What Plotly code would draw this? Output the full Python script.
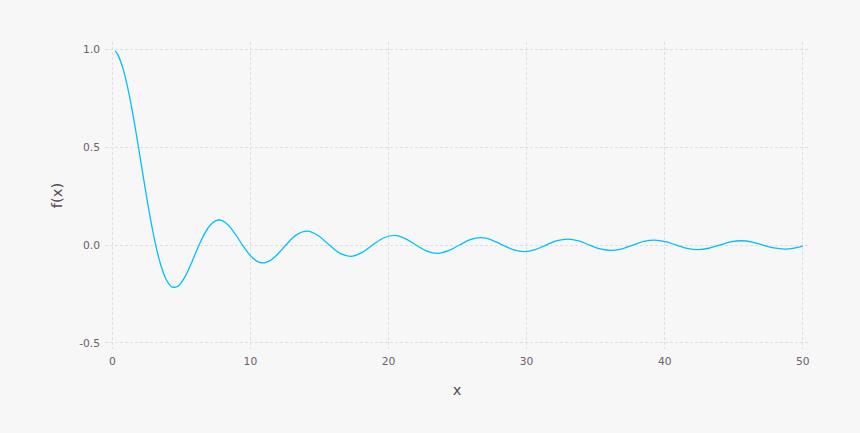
import plotly.graph_objects as go

# Values
x_vals = [0.2, 0.393, 0.785, 1.178, 1.571, 1.963, 2.356, 2.749, 3.142,
          3.534, 3.927, 4.320, 4.712, 5.105, 5.498, 5.890, 6.283,
          6.676, 7.069, 7.461, 7.854, 8.247, 8.639, 9.032, 9.425,
          9.818, 10.210, 10.603, 10.996, 11.388, 11.781, 12.174, 12.566,
          13.352, 14.137, 14.923, 15.708,
          16.493, 17.279, 18.064, 18.850,
          19.635, 20.420, 21.206, 21.991,
          22.777, 23.562, 24.347, 25.133,
          25.918, 26.704, 27.489, 28.274,
          29.060, 29.845, 30.631, 31.416,
          32.201, 32.987, 33.772, 34.558,
          35.343, 36.128, 36.914, 37.699,
          38.485, 39.270, 40.055, 40.841,
          41.626, 42.412, 43.197, 43.982,
          44.768, 45.553, 46.338, 47.124,
          47.909, 48.695, 49.480, 50.0]
y_vals = [0.9933, 0.9745, 0.9003, 0.7842, 0.6366, 0.4705, 0.3001, 0.1392, 0.0,
          -0.1083, -0.1801, -0.2139, -0.2122, -0.1810, -0.1286, -0.0650, 0.0,
          0.0573, 0.1000, 0.1238, 0.1273, 0.1120, 0.0818, 0.0424, 0.0,
          -0.0390, -0.0693, -0.0871, -0.0909, -0.0811, -0.0600, -0.0314, 0.0,
          0.0530, 0.0707, 0.0474, 0.0,
          -0.0429, -0.0579, -0.0391, 0.0,
          0.0360, 0.0490, 0.0333, 0.0,
          -0.0310, -0.0424, -0.0290, 0.0,
          0.0273, 0.0375, 0.0257, 0.0,
          -0.0243, -0.0335, -0.0231, 0.0,
          0.0220, 0.0303, 0.0209, 0.0,
          -0.0200, -0.0277, -0.0192, 0.0,
          0.0184, 0.0255, 0.0177, 0.0,
          -0.0170, -0.0236, -0.0164, 0.0,
          0.0158, 0.0220, 0.0153, 0.0,
          -0.0148, -0.0205, -0.0143, -0.0053]

x_ticks = [0, 10, 20, 30, 40, 50]
y_ticks = [-0.5, 0.0, 0.5, 1.0]
y_tick_text = ["-0.5", "0.0", "0.5", "1.0"]

fig = go.Figure()
fig.add_trace(go.Scatter(
    x=x_vals, y=y_vals, mode="lines",
    line=dict(color="#00BFFF", width=1.3, shape="spline", smoothing=1.0),
    hoverinfo="skip", showlegend=False,
))

grid = dict(showgrid=True, gridcolor="#DEDEE6", gridwidth=1, griddash="3px,2px",
            zeroline=False, showline=False, ticks="",
            tickfont=dict(family="DejaVu Sans", size=10.7, color="#6c606b"))

fig.update_layout(
    width=860, height=433,
    margin=dict(l=105, r=50.5, t=41.7, b=84),
    paper_bgcolor="#F7F7F7", plot_bgcolor="#F7F7F7",
    font=dict(family="DejaVu Sans"),
    xaxis=dict(range=[-0.53, 50.45], tickvals=x_ticks, ticklabelstandoff=4,
               title=dict(text="x", font=dict(size=14.7, color="#564a55"), standoff=18),
               **grid),
    yaxis=dict(range=[-0.532, 1.039], tickvals=y_ticks, ticktext=y_tick_text, ticklabelstandoff=4,
               title=dict(text="f(x)", font=dict(size=14.7, color="#564a55"), standoff=12),
               **grid),
)

fig.write_html("out.html",
               config={"displayModeBar": False},
               post_script="document.body.style.margin='0';document.body.style.background='#F7F7F7';")
